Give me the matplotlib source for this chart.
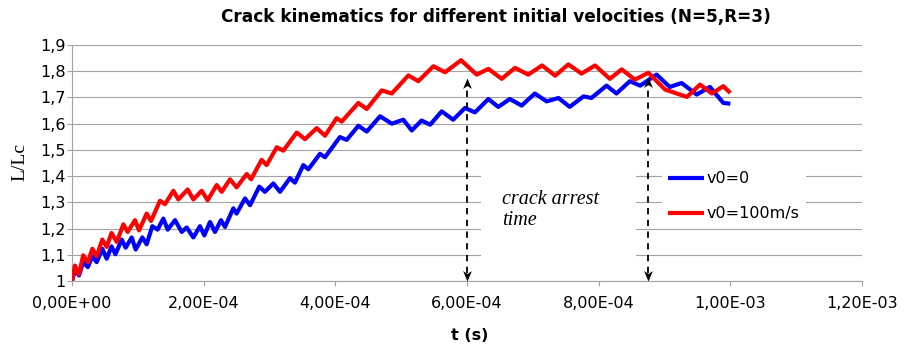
import matplotlib
matplotlib.use("Agg")
import matplotlib.pyplot as plt
from matplotlib.path import Path
from matplotlib.patches import Rectangle
import numpy as np

# ---- data (t in seconds, L/Lc) ----
t_v0 = [0, 0.046, 0.106, 0.17, 0.24, 0.31, 0.375, 0.46, 0.527, 0.60, 0.66, 0.755, 0.815,
        0.907, 0.967, 1.068, 1.134, 1.22, 1.30, 1.387, 1.454, 1.565, 1.666, 1.742, 1.843,
        1.944, 2.01, 2.096, 2.172, 2.263, 2.324, 2.45, 2.50, 2.628, 2.704, 2.845, 2.93,
        3.058, 3.16, 3.31, 3.387, 3.514, 3.59, 3.767, 3.843, 4.07, 4.173, 4.35, 4.477,
        4.68, 4.857, 5.033, 5.16, 5.31, 5.44, 5.616, 5.79, 5.97, 6.12, 6.325, 6.475, 6.65,
        6.83, 7.03, 7.21, 7.39, 7.56, 7.77, 7.89, 8.12, 8.27, 8.475, 8.63, 8.88, 9.08,
        9.26, 9.49, 9.69, 9.894, 10.0]
L_v0 = [1.0, 1.043, 1.021, 1.072, 1.053, 1.094, 1.072, 1.123, 1.085, 1.132, 1.102, 1.158,
        1.127, 1.166, 1.12, 1.166, 1.14, 1.209, 1.196, 1.238, 1.196, 1.232, 1.187, 1.204,
        1.166, 1.209, 1.174, 1.225, 1.187, 1.232, 1.206, 1.277, 1.257, 1.315, 1.289, 1.36,
        1.34, 1.372, 1.34, 1.392, 1.375, 1.442, 1.426, 1.485, 1.472, 1.549, 1.538, 1.592,
        1.57, 1.628, 1.60, 1.615, 1.574, 1.612, 1.596, 1.647, 1.615, 1.66, 1.643, 1.694,
        1.664, 1.694, 1.669, 1.715, 1.685, 1.698, 1.664, 1.704, 1.698, 1.745, 1.715, 1.762,
        1.745, 1.787, 1.74, 1.755, 1.711, 1.74, 1.679, 1.676]

t_v100 = [0, 0.046, 0.106, 0.17, 0.24, 0.31, 0.375, 0.46, 0.527, 0.60, 0.68, 0.78, 0.845,
          0.957, 1.018, 1.134, 1.2, 1.337, 1.413, 1.54, 1.615, 1.757, 1.843, 1.97, 2.06,
          2.198, 2.274, 2.40, 2.50, 2.654, 2.72, 2.88, 2.957, 3.11, 3.21, 3.413, 3.54,
          3.717, 3.843, 4.02, 4.097, 4.35, 4.477, 4.705, 4.857, 5.11, 5.26, 5.49, 5.667,
          5.91, 6.147, 6.325, 6.527, 6.73, 6.93, 7.14, 7.34, 7.54, 7.74, 7.945, 8.17, 8.35,
          8.55, 8.755, 9.01, 9.34, 9.54, 9.72, 9.894, 10.0]
L_v100 = [1.0, 1.059, 1.025, 1.098, 1.072, 1.123, 1.094, 1.158, 1.13, 1.183, 1.149, 1.216,
          1.187, 1.232, 1.193, 1.257, 1.229, 1.306, 1.293, 1.344, 1.311, 1.349, 1.311,
          1.344, 1.308, 1.366, 1.34, 1.388, 1.357, 1.408, 1.388, 1.462, 1.442, 1.51, 1.497,
          1.566, 1.541, 1.583, 1.554, 1.621, 1.608, 1.679, 1.656, 1.727, 1.715, 1.784,
          1.762, 1.819, 1.796, 1.842, 1.787, 1.809, 1.771, 1.813, 1.787, 1.822, 1.783,
          1.826, 1.791, 1.822, 1.771, 1.807, 1.768, 1.794, 1.73, 1.702, 1.749, 1.715,
          1.743, 1.717]

t_scale = 1e-4
series_labels = ["v0=0", "v0=100m/s"]
series_colors = ["#0000ff", "#ff0000"]

x_ticks = [0, 2e-4, 4e-4, 6e-4, 8e-4, 1e-3, 1.2e-3]
x_ticklabels = ["0,00E+00", "2,00E-04", "4,00E-04", "6,00E-04", "8,00E-04", "1,00E-03", "1,20E-03"]
y_ticks = [1.0, 1.1, 1.2, 1.3, 1.4, 1.5, 1.6, 1.7, 1.8, 1.9]
y_ticklabels = ["1", "1,1", "1,2", "1,3", "1,4", "1,5", "1,6", "1,7", "1,8", "1,9"]

arrest_times = [6.0e-4, 8.75e-4]
arrow_tops = [1.775, 1.778]
arrow_bottom = 1.0

title = "Crack kinematics for different initial velocities (N=5,R=3)"

# ---- figure ----
W, H = 916, 350
fig = plt.figure(figsize=(W / 100, H / 100), dpi=100)
L, R, B, T = 72, 862, 281, 45
ax = fig.add_axes([L / W, 1 - B / H, (R - L) / W, (B - T) / H])

grid_c = "#a3a3a3"
ax.set_xlim(0, 1.2e-3)
ax.set_ylim(1.0, 1.9)
ax.set_yticks(y_ticks)
ax.set_yticklabels(y_ticklabels)
ax.set_xticks(x_ticks)
ax.set_xticklabels(x_ticklabels)
ax.yaxis.grid(True, color=grid_c, lw=0.8)
ax.xaxis.grid(False)
for s in ["top", "right"]:
    ax.spines[s].set_visible(False)
for s in ["left", "bottom"]:
    ax.spines[s].set_color(grid_c)
    ax.spines[s].set_linewidth(0.8)
ax.tick_params(axis="both", colors=grid_c, labelcolor="black", labelsize=11.5,
               length=3.6, width=0.8, direction="out")
ax.tick_params(axis="y", pad=0.8)
ax.tick_params(axis="x", pad=7.5)

# white box behind annotation text
ax.add_patch(Rectangle((6.21e-4, 1.065), 2.36e-4, 0.395, facecolor="white",
                       edgecolor="none", zorder=1.7))

t1 = np.array(t_v0) * t_scale
t2 = np.array(t_v100) * t_scale
ax.plot(t1, L_v0, color=series_colors[0], lw=3, label=series_labels[0], zorder=3,
        solid_joinstyle="round", solid_capstyle="butt")
ax.plot(t2, L_v100, color=series_colors[1], lw=3, label=series_labels[1], zorder=3.1,
        solid_joinstyle="round", solid_capstyle="butt")

# arrows
up_head = Path([(0, 0), (-0.42, -1.0), (0, -0.72), (0.42, -1.0), (0, 0)],
               [Path.MOVETO, Path.LINETO, Path.LINETO, Path.LINETO, Path.CLOSEPOLY])
down_head = Path([(0, 0), (-0.42, 1.0), (0, 0.72), (0.42, 1.0), (0, 0)],
                 [Path.MOVETO, Path.LINETO, Path.LINETO, Path.LINETO, Path.CLOSEPOLY])
for ta, top in zip(arrest_times, arrow_tops):
    ax.plot([ta, ta], [arrow_bottom + 0.03, top - 0.03], color="black", lw=1.3,
            dashes=(3.5, 3.0), zorder=4)
    ax.plot([ta], [top], marker=up_head, markersize=15, color="black", mew=0, zorder=4.1)
    ax.plot([ta], [arrow_bottom], marker=down_head, markersize=15, color="black", mew=0,
            zorder=4.1, clip_on=False)

ax.text(6.53e-4, 1.271, "crack arrest\ntime", family="Liberation Serif", style="italic",
        fontsize=14.5, va="center", ha="left", linespacing=1.2, zorder=5)

leg = ax.legend(loc="upper left", bbox_to_anchor=(662 / W, 1 - 165 / H),
                bbox_transform=fig.transFigure, fontsize=11.5, frameon=True,
                facecolor="white", edgecolor="none", framealpha=1, fancybox=False,
                handlelength=2.2, handletextpad=0.2, labelspacing=1.25, borderpad=0.4,
                borderaxespad=0)
leg.set_zorder(6)

fig.text(496 / W, 1 - 17 / H, title, ha="center", va="center", fontsize=12.2,
         fontweight="bold")
fig.text(470 / W, 1 - 335 / H, "t (s)", ha="center", va="center", fontsize=11.5,
         fontweight="bold")
fig.text(20 / W, 1 - 162 / H, "L/Lc", ha="center", va="center", rotation=90,
         family="Liberation Serif", fontsize=14)

fig.savefig("out.png", dpi=100)
